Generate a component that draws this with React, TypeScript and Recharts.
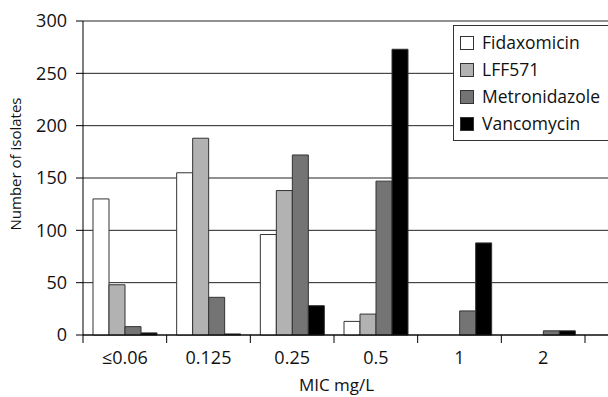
import React from 'react';
import { BarChart, Bar, XAxis, YAxis, CartesianGrid, Legend } from 'recharts';

const categories = ['≤0.06', '0.125', '0.25', '0.5', '1', '2'];
const fidaxomicin = [130, 155, 96, 13, 0, 0];
const lff571 = [48, 188, 138, 20, 0, 0];
const metronidazole = [8, 36, 172, 147, 23, 4];
const vancomycin = [2, 1, 28, 273, 88, 4];
const yTicks = [0, 50, 100, 150, 200, 250, 300];

const SERIES = [
  { key: 'Fidaxomicin', fill: '#ffffff' },
  { key: 'LFF571', fill: '#b2b2b2' },
  { key: 'Metronidazole', fill: '#747474' },
  { key: 'Vancomycin', fill: '#000000' },
];

const data = categories.map((c, i) => ({
  mic: c,
  Fidaxomicin: fidaxomicin[i],
  LFF571: lff571[i],
  Metronidazole: metronidazole[i],
  Vancomycin: vancomycin[i],
}));

const FONT = '"Open Sans", sans-serif';
const TICK_SIZE = 8;
const TICK_MARGIN = 8;

// category ticks sit at band edges in the original, labels at centres
function MicTick(props: any) {
  const { x, y, payload, index } = props;
  const half = payload.offset ?? 0;
  const axisY = y - TICK_SIZE - TICK_MARGIN;
  return (
    <g>
      <line x1={x - half} x2={x - half} y1={axisY} y2={axisY + TICK_SIZE} stroke="#000" />
      {index === categories.length - 1 && (
        <line x1={x + half} x2={x + half} y1={axisY} y2={axisY + TICK_SIZE} stroke="#000" />
      )}
      <text x={x} y={y} dy="0.71em" textAnchor="middle" fontSize={18} fill="#111" fontFamily={FONT}>
        {payload.value}
      </text>
    </g>
  );
}

function YLabel(props: any) {
  const { viewBox } = props;
  const cy = viewBox.y + viewBox.height / 2 - 14;
  return (
    <text
      x={15}
      y={cy}
      transform={`rotate(-90, 15, ${cy})`}
      textAnchor="middle"
      dominantBaseline="central"
      fontSize={15}
      fill="#111"
      fontFamily={FONT}
    >
      Number of isolates
    </text>
  );
}

function LegendBox() {
  return (
    <div
      style={{
        background: '#fff',
        border: '1px solid #333',
        width: 170,
        padding: '3px 0 3px 6px',
        fontFamily: FONT,
        fontSize: 17.5,
        color: '#111',
        lineHeight: '27px',
        textAlign: 'left',
      }}
    >
      {SERIES.map(s => (
        <div key={s.key} style={{ display: 'flex', alignItems: 'center', whiteSpace: 'nowrap' }}>
          <span
            style={{
              display: 'inline-block',
              width: 12,
              height: 12,
              background: s.fill,
              border: '1px solid #333',
              marginRight: 8,
            }}
          />
          {s.key}
        </div>
      ))}
    </div>
  );
}

export default function App() {
  return (
    <div style={{ position: 'absolute', left: 0, top: 0, width: 608, height: 397, overflow: 'hidden', background: '#fff' }}>
      <BarChart
        width={608}
        height={397}
        data={data}
        margin={{ top: 21, right: 0, left: 0, bottom: 0 }}
        barGap={0}
        barSize={16}
      >
        <CartesianGrid vertical={false} stroke="#222" />
        <XAxis
          dataKey="mic"
          height={62}
          padding={{ left: 0, right: 23 }}
          stroke="#000"
          tickLine={false}
          tickSize={TICK_SIZE}
          tickMargin={TICK_MARGIN}
          tick={<MicTick />}
          interval={0}
          label={{ value: 'MIC mg/L', position: 'insideBottom', offset: 6, fontSize: 17, fill: '#111', fontFamily: FONT, dx: -9 }}
        />
        <YAxis
          width={83}
          domain={[0, 300]}
          ticks={yTicks}
          stroke="#000"
          tickSize={7}
          tickMargin={9}
          tick={{ fontSize: 18, fill: '#111', fontFamily: FONT }}
          label={<YLabel />}
        />
        <Legend
          layout="horizontal"
          verticalAlign="middle"
          align="center"
          content={<LegendBox />}
          wrapperStyle={{ top: 25, left: 453, width: 'auto', right: 'auto', bottom: 'auto' }}
        />
        {SERIES.map(s => (
          <Bar key={s.key} dataKey={s.key} fill={s.fill} stroke="#333" strokeWidth={1} isAnimationActive={false} />
        ))}
      </BarChart>
    </div>
  );
}
